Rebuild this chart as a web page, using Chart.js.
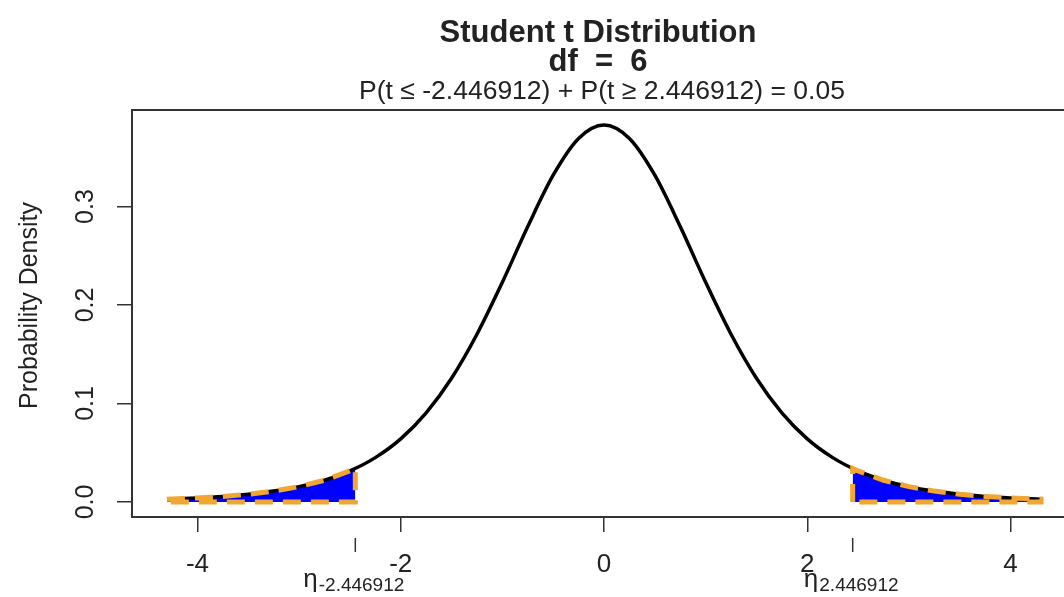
<!DOCTYPE html>
<html>
<head>
<meta charset="utf-8">
<script src="https://cdn.jsdelivr.net/npm/chart.js@4.4.1/dist/chart.umd.min.js"></script>
<style>
  html, body { margin: 0; padding: 0; background: #fff; overflow: hidden; }
  #wrap { width: 1064px; height: 597px; overflow: hidden; }
</style>
</head>
<body>
<div id="wrap"><canvas id="chart" width="1090" height="597"></canvas></div>
<script>
const FONT = '"Liberation Sans", Arial, sans-serif';
const INK = "#222";
const TAIL_FILL = "#0000ff";
const TAIL_EDGE = "#f0a630";

// values
const DF = 6;
const CRIT = 2.446912;
const CRIT_DENSITY = 0.034;
const X_TICKS = [-4, -2, 0, 2, 4];
const Y_TICKS = [0, 0.1, 0.2, 0.3];
const T_VALUES = [-4.3, -4, -3.75, -3.5, -3.25, -3, -2.75, -2.5, -2.25, -2, -1.75, -1.5, -1.25, -1, -0.75, -0.5, -0.25,
  0, 0.25, 0.5, 0.75, 1, 1.25, 1.5, 1.75, 2, 2.25, 2.5, 2.75, 3, 3.25, 3.5, 3.75, 4, 4.3];
const DENSITY = [0.0028, 0.0041, 0.0056, 0.0078, 0.011, 0.0155, 0.022, 0.0315, 0.045, 0.064, 0.0904, 0.1256, 0.1703, 0.2231, 0.2797, 0.3318, 0.3691,
  0.3827, 0.3691, 0.3318, 0.2797, 0.2231, 0.1703, 0.1256, 0.0904, 0.064, 0.045, 0.0315, 0.022, 0.0155, 0.011, 0.0078, 0.0056, 0.0041, 0.0028];

const curve = T_VALUES.map((t, i) => ({ x: t, y: DENSITY[i] }));
const tLast = T_VALUES[T_VALUES.length - 1];

// shaded areas (curve part only) and their closed outlines
const leftArea = [...curve.filter(p => p.x <= -CRIT), { x: -CRIT, y: CRIT_DENSITY }];
const rightArea = [{ x: CRIT, y: CRIT_DENSITY }, ...curve.filter(p => p.x >= CRIT)];
const leftEdge = [...leftArea, { x: -CRIT, y: 0 }, { x: T_VALUES[0], y: 0 }, { ...leftArea[0] }];
const rightEdge = [{ x: CRIT, y: 0 }, ...rightArea, { x: tLast, y: 0 }, { x: CRIT, y: 0 }];

const xMin = T_VALUES[0] - 0.04 * (tLast - T_VALUES[0]);
const xMax = -xMin;
const yTop = Math.max(...DENSITY);
const yMin = -0.04 * yTop, yMax = yTop * 1.04;

const areaStyle = { tension: 0, pointRadius: 0, fill: "origin", backgroundColor: TAIL_FILL, borderWidth: 0, borderColor: TAIL_FILL, order: 3 };
const edgeStyle = { tension: 0, pointRadius: 0, fill: false, borderColor: TAIL_EDGE, borderWidth: 5, borderDash: [18, 10], order: 1 };

const decorations = {
  id: "decorations",
  afterDraw(chart) {
    const { ctx, chartArea: a, scales: { x, y } } = chart;
    ctx.save();
    ctx.strokeStyle = "#333";
    ctx.lineWidth = 2;
    ctx.strokeRect(a.left, a.top, a.right - a.left, a.bottom - a.top);

    ctx.fillStyle = INK;
    ctx.textAlign = "center";
    const cx = (a.left + a.right) / 2;
    ctx.font = "bold 31px " + FONT;
    ctx.fillText("Student t Distribution", cx - 6, 42);
    ctx.fillText("df  =  " + DF, cx - 6, 71);
    ctx.font = "26.5px " + FONT;
    ctx.fillText(`P(t \u2264 -${CRIT}) + P(t \u2265 ${CRIT}) = 0.05`, cx - 2, 99);

    // y tick labels, parallel to the axis
    ctx.font = "25px " + FONT;
    ctx.textBaseline = "middle";
    Y_TICKS.forEach(v => {
      ctx.save();
      ctx.translate(86, y.getPixelForValue(v));
      ctx.rotate(-Math.PI / 2);
      ctx.fillText(v.toFixed(1), 0, 0);
      ctx.restore();
    });
    ctx.save();
    ctx.translate(30, (a.top + a.bottom) / 2 - 8);
    ctx.rotate(-Math.PI / 2);
    ctx.fillText("Probability Density", 0, 0);
    ctx.restore();

    // critical value marks under the axis
    ctx.textBaseline = "alphabetic";
    ctx.lineWidth = 1.5;
    [-CRIT, CRIT].forEach(t => {
      const px = x.getPixelForValue(t);
      ctx.beginPath();
      ctx.moveTo(px, 538);
      ctx.lineTo(px, 552);
      ctx.stroke();
      const sub = t.toFixed(6);
      ctx.font = "26px " + FONT;
      const w1 = ctx.measureText("\u03b7").width;
      ctx.font = "19px " + FONT;
      const w2 = ctx.measureText(sub).width;
      const left = px - (w1 + w2) / 2 - 2;
      ctx.textAlign = "left";
      ctx.font = "26px " + FONT;
      ctx.fillText("\u03b7", left, 587);
      ctx.font = "19px " + FONT;
      ctx.fillText(sub, left + w1 + 1, 591);
    });
    ctx.restore();
  }
};

new Chart(document.getElementById("chart"), {
  type: "line",
  data: {
    datasets: [
      { label: "density", data: curve, cubicInterpolationMode: "monotone", pointRadius: 0,
        borderColor: "#000", borderWidth: 3.5, fill: false, order: 2 },
      { label: "lower tail", data: leftArea, ...areaStyle },
      { label: "upper tail", data: rightArea, ...areaStyle },
      { label: "lower tail edge", data: leftEdge, ...edgeStyle },
      { label: "upper tail edge", data: rightEdge, ...edgeStyle }
    ]
  },
  options: {
    responsive: false,
    animation: false,
    devicePixelRatio: 1,
    layout: { padding: { top: 110, right: 14, left: 0, bottom: 0 } },
    plugins: { legend: { display: false }, tooltip: { enabled: false }, title: { display: false } },
    scales: {
      x: {
        type: "linear", min: xMin, max: xMax,
        afterBuildTicks: s => { s.ticks = X_TICKS.map(v => ({ value: v })); },
        afterFit: s => { s.height = 80; },
        border: { display: false },
        grid: { drawOnChartArea: false, drawTicks: true, tickLength: 15, color: "#333", lineWidth: 1.5 },
        ticks: { color: INK, font: { family: FONT, size: 26 }, padding: 17, maxRotation: 0, autoSkip: false }
      },
      y: {
        type: "linear", min: yMin, max: yMax,
        afterBuildTicks: s => { s.ticks = Y_TICKS.map(v => ({ value: v })); },
        afterFit: s => { s.width = 132; },
        border: { display: false },
        grid: { drawOnChartArea: false, drawTicks: true, tickLength: 15, color: "#333", lineWidth: 1.5 },
        ticks: { display: false }
      }
    }
  },
  plugins: [decorations]
});
</script>
</body>
</html>
